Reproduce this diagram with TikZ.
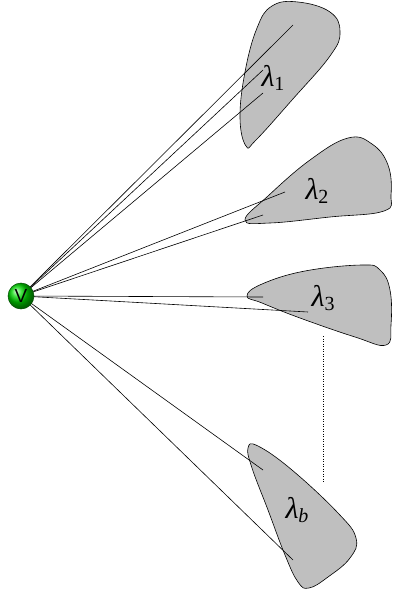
\documentclass[tikz,border=0pt]{standalone}
\usepackage{fontspec}
\setmainfont{Liberation Serif}
\setsansfont{Liberation Sans}
\begin{document}
\begin{tikzpicture}[x=1pt,y=-1pt,
  blob/.style={draw=black, fill=gray!50, line width=0.6pt},
  ray/.style={draw=black, line width=0.6pt},
  lab/.style={font=\fontsize{30}{30}\selectfont, inner sep=0pt},
  vball/.style={circle, shading=ball, ball color=green!85!black, draw=green!30!black, text=black, line width=0.5pt, minimum size=26pt, inner sep=0pt, font=\sffamily\fontsize{19}{19}\selectfont}
]
\useasboundingbox (0,0) rectangle (393,592);
% blobs
\draw[blob] plot[smooth cycle, tension=0.7] coordinates {(246,146) (240,118) (245,72) (257,28) (272,6) (298,2) (330,12) (340,32) (330,56) (292,100) (256,140)};
\draw[blob] plot[smooth cycle, tension=0.7] coordinates {(245,220) (268,196) (310,160) (348,138) (372,144) (388,165) (391,195) (384,211) (330,217) (270,223)};
\draw[blob] plot[smooth cycle, tension=0.7] coordinates {(247,296) (262,284) (305,271) (362,265) (380,270) (390,290) (391,325) (386,345) (355,337) (300,318) (262,303)};
\draw[blob] plot[smooth cycle, tension=0.7] coordinates {(248,448) (258,446) (292,470) (338,513) (356,538) (350,558) (328,577) (309,588) (298,582) (285,555) (268,510) (252,468)};
% dotted
\coordinate (d1) at (323,336);
\coordinate (d2) at (323,483);
\draw[dotted, line width=0.5pt] (d1) -- (d2);
% ray ends
\coordinate (vc) at (21,296);
\coordinate (a1) at (293,25);
\coordinate (a2) at (263,70);
\coordinate (a3) at (263,93);
\coordinate (b1) at (285,192);
\coordinate (b2) at (263,215);
\coordinate (c1) at (263,297);
\coordinate (c2) at (308,312);
\coordinate (e1) at (263,470);
\coordinate (e2) at (293,560);
\foreach \p in {a1,a2,a3,b1,b2,c1,c2,e1,e2} \draw[ray] (vc) -- (\p);
% labels
\node[lab] (l1) at (273,78) {\itshape λ\raisebox{-0.3ex}{\upshape\fontsize{20}{20}\selectfont 1}};
\node[lab] (l2) at (317,191) {\itshape λ\raisebox{-0.3ex}{\upshape\fontsize{20}{20}\selectfont 2}};
\node[lab] (l3) at (323,298) {\itshape λ\raisebox{-0.3ex}{\upshape\fontsize{20}{20}\selectfont 3}};
\node[lab] (lb) at (297,510) {\itshape λ\raisebox{-0.3ex}{\fontsize{20}{20}\selectfont b}};
\node[vball] (v) at (vc) {V};
\end{tikzpicture}
\end{document}
